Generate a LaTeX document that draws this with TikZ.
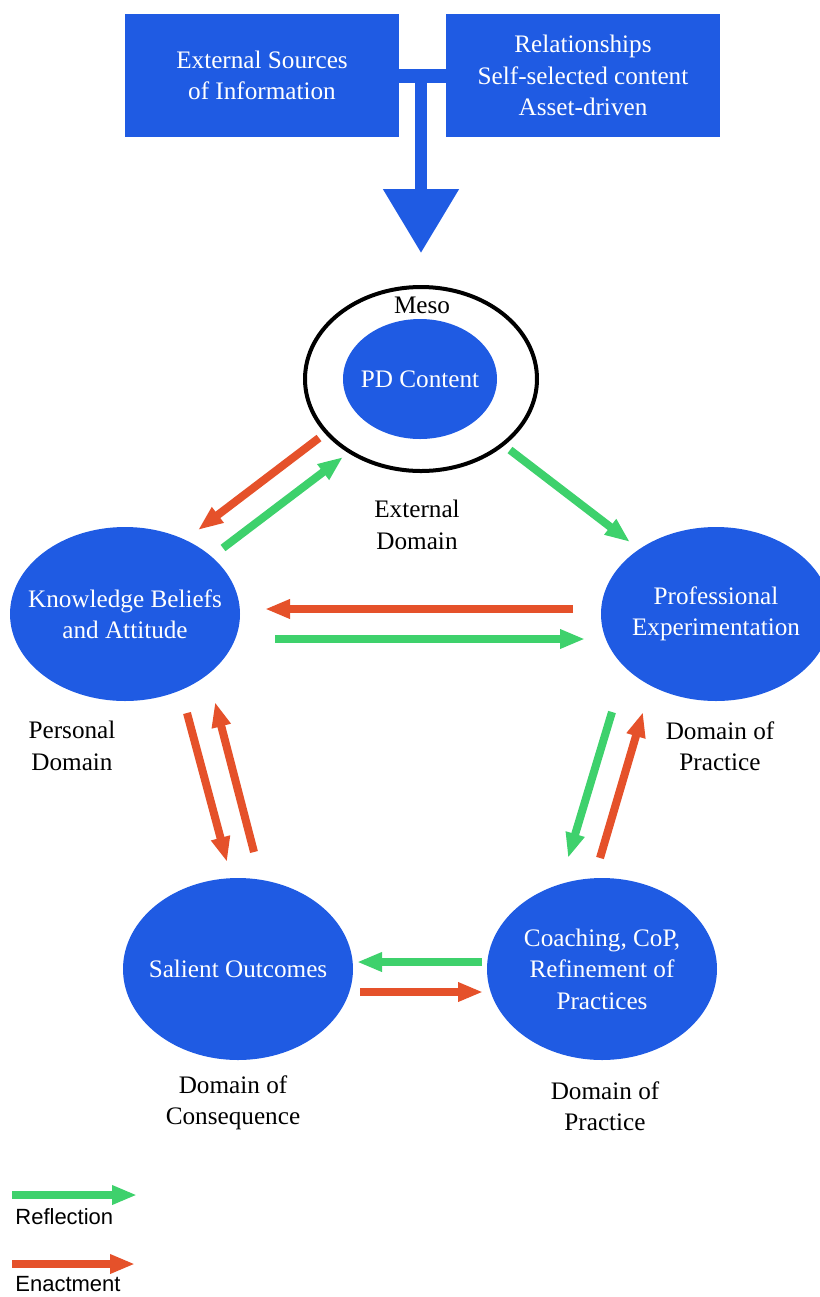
\documentclass[tikz,border=0pt]{standalone}
\usepackage{fontspec}
\setmainfont{Liberation Serif}
\newfontfamily\legendfont{Liberation Sans}
\usetikzlibrary{shapes.geometric,arrows.meta,calc}

\definecolor{pdblue}{RGB}{31,91,227}
\definecolor{refgreen}{RGB}{62,209,108}
\definecolor{enactred}{RGB}{229,81,42}

\begin{document}
\begin{tikzpicture}[x=0.5pt,y=-0.5pt,
    every node/.style={font=\fontsize{12.6}{15.75}\selectfont, align=center},
    srcbox/.style={fill=pdblue, text=white, minimum width=137pt, minimum height=61.5pt, inner sep=0pt},
    domnode/.style={ellipse, fill=pdblue, text=white, inner xsep=-9pt, inner ysep=0pt},
    reflect/.style={draw=refgreen, line width=4pt, -{Triangle[length=12.5pt,width=9pt]}},
    enact/.style={draw=enactred, line width=4pt, -{Triangle[length=12.5pt,width=9pt]}},
    keylab/.style={font=\legendfont\fontsize{11}{13}\selectfont, anchor=west, inner sep=0pt}]
    \useasboundingbox (0,0) rectangle (820,1297);

    % sources at the top
    \node[srcbox] (src) at (262,75.5) {External Sources\\of Information};
    \node[srcbox] (rel) at (583,75.5) {Relationships\\Self-selected content\\Asset-driven};
    \coordinate (inflow) at (421,253);
    \draw[pdblue, line width=7pt] (src.east) -- (rel.west);
    \draw[pdblue, line width=6pt, -{Triangle[length=32pt,width=36.5pt]}] (inflow |- src.east) -- (inflow);

    % meso level
    \node[ellipse, draw, line width=2pt, minimum width=116pt, minimum height=92pt] (meso) at (421,379) {};
    \node (mesolab) at (422,305) {Meso};
    \node[domnode, minimum width=77pt, minimum height=60pt] (pd) at (420,379) {PD Content};

    % the four domains
    \node[domnode, minimum width=115pt, minimum height=87pt] (kba) at (125,614) {Knowledge Beliefs\\and Attitude};
    \node[domnode, minimum width=115pt, minimum height=87pt] (prof) at (716,614) {Professional\\Experimentation};
    \node[domnode, minimum width=115pt, minimum height=91pt] (sal) at (238,969) {Salient Outcomes};
    \node[domnode, minimum width=115pt, minimum height=91pt] (coach) at (602,969) {Coaching, CoP,\\Refinement of\\Practices};

    \node (extdom) at (417,525) {External\\Domain};
    \node (persdom) at (72,746) {Personal\\Domain};
    \node (pracdom) at (720,746) {Domain of\\Practice};
    \node (consdom) at (233,1103) {Domain of\\Consequence};
    \node (pracdomb) at (605,1106) {Domain of\\Practice};

    % reflection and enactment paths
    \draw[enact] ($(meso)+(-102,59)$) -- ($(kba)+(73,-84)$);
    \draw[reflect] ($(kba)+(98,-66)$) -- ($(meso)+(-78,78)$);
    \draw[reflect] ($(meso)+(89,71)$) -- ($(prof)+(-86,-72)$);
    \draw[enact] ($(prof)+(-143,-5)$) -- ($(kba)+(140,-5)$);
    \draw[reflect] ($(kba)+(150,25)$) -- ($(prof)+(-131,25)$);
    \draw[enact] ($(kba)+(62,99)$) -- ($(sal)+(-11,-107)$);
    \draw[enact] ($(sal)+(16,-117)$) -- ($(kba)+(90,88)$);
    \draw[reflect] ($(prof)+(-104,98)$) -- ($(coach)+(-34,-111)$);
    \draw[enact] ($(coach)+(-2,-111)$) -- ($(prof)+(-73,98)$);
    \draw[reflect] ($(coach)+(-120,-7)$) -- ($(sal)+(119,-7)$);
    \draw[enact] ($(sal)+(122,23)$) -- ($(coach)+(-119,23)$);

    % legend
    \coordinate (reflA) at (12,1195);
    \coordinate (reflB) at (137,1195);
    \coordinate (enactA) at (12,1264);
    \coordinate (enactB) at (135,1264);
    \draw[reflect] (reflA) -- (reflB);
    \node[keylab] (refllab) at (15,1217) {Reflection};
    \draw[enact] (enactA) -- (enactB);
    \node[keylab] (enactlab) at (15,1284) {Enactment};
\end{tikzpicture}
\end{document}
